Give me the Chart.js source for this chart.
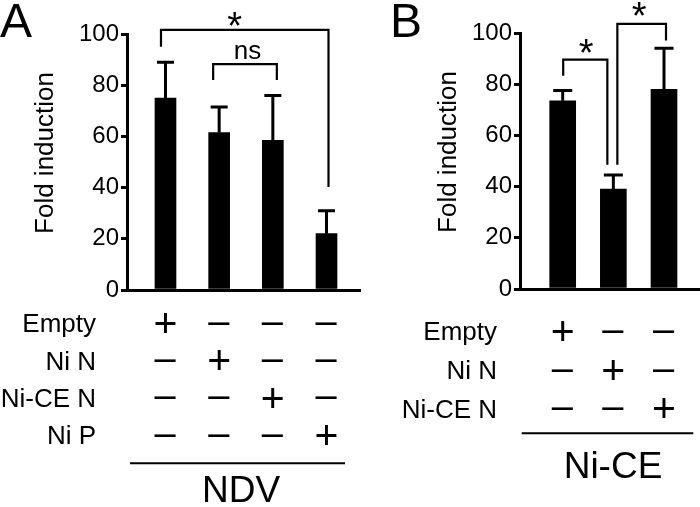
<!DOCTYPE html>
<html><head><meta charset="utf-8">
<script src="https://cdn.jsdelivr.net/npm/chart.js@4.4.1/dist/chart.umd.min.js"></script>
<style>
html,body{margin:0;padding:0;background:#fff;}
#wrap{position:relative;width:700px;height:507px;overflow:hidden;background:#fff;}
#cA{position:absolute;left:0;top:0;}
#cB{position:absolute;left:370px;top:0;}
</style></head><body>
<div id="wrap"><canvas id="cA" width="370" height="507"></canvas><canvas id="cB" width="330" height="507"></canvas></div>
<script>
// ---------------- data ----------------
const constructsA = ['Empty', 'Ni N', 'Ni-CE N', 'Ni P'];   // one bar per construct, same order as table rows
const meansA = [75, 61.5, 58.5, 22];
const errorsA = [14, 10, 17.5, 9];
const virusA = 'NDV';

const constructsB = ['Empty', 'Ni N', 'Ni-CE N'];
const meansB = [73.5, 39, 78];
const errorsB = [4, 5.5, 16];
const virusB = 'Ni-CE';

const yTicks = [0, 20, 40, 60, 80, 100];
const yTitle = 'Fold induction';

// significance brackets: [left bar, right bar, top value, left leg end value, right leg end value, label]
const bracketsA = [[0, 3, 101.6, 95, 40.2, '*'], [1, 2, 88.2, 82, 82, 'ns']];
const bracketsB = [[0, 1, 89.6, 83.3, 48.5, '*'], [1, 2, 103.6, 48.5, 97.1, '*']];

// ---------------- styling / layout ----------------
const FAM = "'Liberation Sans', Arial, Helvetica, sans-serif";
const styleA = {
  offsetX: 0, letter: 'A', letterX: 0, letterY: 37,
  titleX: 53, titleY: 153, capHalf: 8.5,
  rowY: [323, 360.3, 397.6, 435], labelX: 96,
  lineY: 463.3, lineX1: 130, lineX2: 345, groupX: 241, groupY: 489.2,
  legShift: [[-4.5, 2], [-6, 4]], labelShift: [[-10, -11], [3, -12]]
};
const styleB = {
  offsetX: 370, letter: 'B', letterX: 390, letterY: 37,
  titleX: 456, titleY: 152, capHalf: 9.5,
  rowY: [331, 370, 408.3], labelX: 497,
  lineY: 433.3, lineX1: 521.7, lineX2: 693.3, groupX: 613, groupY: 465,
  legShift: [[0.5, -6], [4, 2]], labelShift: [[1, -14], [-2.5, -15]]
};

function drawCentered(ctx, text, font, cx, cy) {
  ctx.font = font;
  ctx.textAlign = 'left';
  ctx.textBaseline = 'alphabetic';
  const m = ctx.measureText(text);
  const w = m.actualBoundingBoxLeft + m.actualBoundingBoxRight;
  const x = cx - w / 2 + m.actualBoundingBoxLeft;
  const y = cy + (m.actualBoundingBoxAscent - m.actualBoundingBoxDescent) / 2;
  ctx.fillText(text, x, y);
}

function makeExtras(constructs, means, errors, brackets, virus, st) {
  return {
    id: 'extras' + st.letter,
    afterDatasetsDraw(chart) {
      const ctx = chart.ctx, xs = chart.scales.x, ys = chart.scales.y;
      ctx.save();
      ctx.strokeStyle = '#000';
      ctx.lineWidth = 3;
      ctx.lineCap = 'butt';
      means.forEach((m, i) => {
        const x = xs.getPixelForValue(i + 1);
        const y1 = ys.getPixelForValue(m);
        const y2 = ys.getPixelForValue(m + errors[i]);
        ctx.beginPath();
        ctx.moveTo(x, y1); ctx.lineTo(x, y2 - 1.5);
        ctx.moveTo(x - st.capHalf, y2); ctx.lineTo(x + st.capHalf, y2);
        ctx.stroke();
      });
      ctx.restore();
    },
    afterDraw(chart) {
      const ctx = chart.ctx, xs = chart.scales.x, ys = chart.scales.y;
      ctx.save();
      ctx.translate(-st.offsetX, 0);
      ctx.fillStyle = '#000';
      ctx.strokeStyle = '#000';
      const ox = st.offsetX;
      const px = v => xs.getPixelForValue(v) + ox;
      // panel letter
      ctx.font = '48px ' + FAM;
      ctx.textAlign = 'left'; ctx.textBaseline = 'alphabetic';
      ctx.fillText(st.letter, st.letterX, st.letterY);
      // y title
      ctx.save();
      ctx.translate(st.titleX, st.titleY);
      ctx.rotate(-Math.PI / 2);
      ctx.font = '26px ' + FAM;
      ctx.textAlign = 'center'; ctx.textBaseline = 'alphabetic';
      ctx.fillText(yTitle, 0, 0);
      ctx.restore();
      // brackets
      ctx.lineWidth = 2.2;
      brackets.forEach((b, k) => {
        const xl = px(b[0] + 1) + st.legShift[k][0];
        const xr = px(b[1] + 1) + st.legShift[k][1];
        const yt = ys.getPixelForValue(b[2]);
        const yl = ys.getPixelForValue(b[3]);
        const yr = ys.getPixelForValue(b[4]);
        ctx.beginPath();
        ctx.moveTo(xl, yl); ctx.lineTo(xl, yt); ctx.lineTo(xr, yt); ctx.lineTo(xr, yr);
        ctx.stroke();
        const cx = (xl + xr) / 2 + st.labelShift[k][0];
        const cy = yt + st.labelShift[k][1];
        const f = b[5] === '*' ? '38px ' + FAM : '26px ' + FAM;
        drawCentered(ctx, b[5], f, cx, cy);
      });
      // condition table
      constructs.forEach((name, r) => {
        const y = st.rowY[r];
        ctx.font = '26px ' + FAM;
        ctx.textAlign = 'right'; ctx.textBaseline = 'alphabetic';
        ctx.fillText(name, st.labelX, y + 26 * 0.716 / 2);
        constructs.forEach((bar, c) => {
          const plus = bar === name;
          drawCentered(ctx, plus ? '+' : '\u2013', plus ? '41px ' + FAM : '38px ' + FAM, px(c + 1), y);
        });
      });
      ctx.lineWidth = 2;
      ctx.beginPath();
      ctx.moveTo(st.lineX1, st.lineY); ctx.lineTo(st.lineX2, st.lineY);
      ctx.stroke();
      ctx.font = '37px ' + FAM;
      ctx.textAlign = 'center'; ctx.textBaseline = 'alphabetic';
      ctx.fillText(virus, st.groupX, st.groupY + 37 * 0.716 / 2);
      ctx.restore();
    }
  };
}

function makeChart(id, constructs, means, errors, brackets, virus, st, cfg) {
  return new Chart(document.getElementById(id), {
    type: 'bar',
    data: {
      datasets: [{
        label: 'Fold induction',
        data: means.map((v, i) => ({ x: i + 1, y: v })),
        backgroundColor: '#000',
        borderWidth: 0,
        barThickness: cfg.barW
      }]
    },
    options: {
      responsive: false,
      animation: false,
      events: [],
      layout: { padding: { left: 0, right: cfg.padR, top: cfg.padT, bottom: cfg.padB } },
      plugins: { legend: { display: false }, tooltip: { enabled: false }, title: { display: false } },
      scales: {
        x: {
          type: 'linear', min: cfg.xMin, max: cfg.xMax, offset: false,
          ticks: { display: false },
          grid: { display: false, drawTicks: false, offset: false },
          border: { display: true, width: 3, color: '#000' },
          afterFit: s => { s.height = 0; }
        },
        y: {
          min: 0, max: 100,
          afterBuildTicks: s => { s.ticks = yTicks.map(v => ({ value: v })); },
          ticks: { font: { family: FAM, size: 24 }, color: '#000', padding: 2 },
          grid: { drawOnChartArea: false, drawTicks: true, tickLength: 6, lineWidth: 3, color: '#000' },
          border: { display: true, width: 3, color: '#000' },
          afterFit: s => { s.width = cfg.yW; }
        }
      }
    },
    plugins: [makeExtras(constructs, means, errors, brackets, virus, st)]
  });
}

makeChart('cA', constructsA, meansA, errorsA, bracketsA, virusA, styleA,
  { barW: 21, padR: 10, padT: 34, padB: 217, xMin: 0.283, xMax: 4.624, yW: 127 });
makeChart('cB', constructsB, meansB, errorsB, bracketsB, virusB, styleB,
  { barW: 26, padR: 1, padT: 33, padB: 218, xMin: 0.157, xMax: 3.691, yW: 150 });
</script>
</body></html>
